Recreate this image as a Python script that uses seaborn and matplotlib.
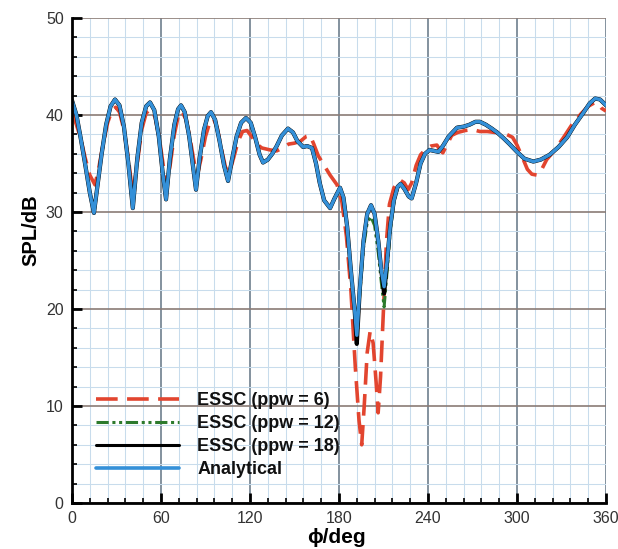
import matplotlib
matplotlib.use("Agg")
import matplotlib.pyplot as plt
import seaborn as sns
import pandas as pd
from matplotlib.ticker import MultipleLocator
from matplotlib.lines import Line2D

# ---------------- data ----------------
phi_ana = [0, 3, 6, 9, 12, 14.8, 17, 20, 23, 26, 29, 32, 35, 38, 41, 44, 47, 50, 52.6,
           55.5, 58.5, 61, 63.4, 66, 69, 71.5, 73.5, 76, 79, 81.5, 83.6, 86, 89, 91.5,
           93.7, 96.5, 99.5, 102.5, 105.2, 108, 111, 114, 117.3, 120.5, 123.5, 126.5,
           128.8, 132, 135, 138, 141.5, 145.6, 149, 152, 155.8, 158.5, 161.8, 164.5,
           167, 170, 174, 177, 180.7, 183, 185.5, 188, 190.5, 192, 194, 196.5, 199,
           201.6, 204, 206.5, 208.5, 210.4, 212.5, 214.5, 217, 219.5, 221.5, 224, 227,
           229, 232, 235, 238, 241, 244, 247, 250, 254, 259.6, 264, 268, 272, 275, 279,
           283, 286.6, 291, 295, 300, 305, 311, 316, 322, 328, 333.8, 339, 344.6, 349,
           352.7, 356, 360]
spl_ana = [41.5, 40.0, 37.5, 34.8, 32.0, 29.9, 32.5, 36.0, 39.0, 40.9, 41.6, 41.0, 38.8,
           35.0, 30.4, 35.5, 39.2, 40.9, 41.3, 40.5, 37.8, 34.2, 31.3, 35.5, 39.0, 40.6,
           41.0, 40.3, 37.8, 34.8, 32.3, 35.5, 38.5, 39.9, 40.3, 39.5, 37.3, 34.8, 33.2,
           35.5, 37.8, 39.2, 39.7, 39.2, 37.7, 35.9, 35.1, 35.4, 36.0, 36.8, 37.9, 38.6,
           38.2, 37.3, 36.7, 36.8, 36.6, 35.0, 33.0, 31.2, 30.4, 31.4, 32.5, 31.5, 28.5,
           24.0, 20.0, 17.3, 22.0, 27.0, 29.8, 30.7, 29.8, 27.0, 24.0, 22.3, 25.0, 28.5,
           31.2, 32.6, 32.9, 32.4, 31.6, 31.4, 33.0, 35.0, 36.0, 36.4, 36.3, 36.2, 36.8,
           37.8, 38.7, 38.8, 39.0, 39.3, 39.3, 39.0, 38.6, 38.2, 37.6, 37.0, 36.2, 35.5,
           35.2, 35.4, 35.9, 36.7, 37.7, 39.0, 40.2, 41.2, 41.7, 41.6, 41.0]

spl_ppw18 = [41.5, 40.0, 37.5, 34.8, 32.0, 29.9, 32.5, 36.0, 39.0, 40.9, 41.6, 41.0, 38.8,
             35.0, 30.4, 35.5, 39.2, 40.9, 41.3, 40.5, 37.8, 34.2, 31.3, 35.5, 39.0, 40.6,
             41.0, 40.3, 37.8, 34.8, 32.3, 35.5, 38.5, 39.9, 40.3, 39.5, 37.3, 34.8, 33.2,
             35.5, 37.8, 39.2, 39.7, 39.2, 37.7, 35.9, 35.1, 35.4, 36.0, 36.8, 37.9, 38.6,
             38.2, 37.3, 36.7, 36.8, 36.6, 35.0, 33.0, 31.2, 30.4, 31.4, 32.5, 31.5, 28.5,
             24.0, 20.0, 16.4, 22.0, 27.0, 29.8, 30.7, 29.8, 27.0, 24.0, 21.6, 25.0, 28.5,
             31.2, 32.6, 32.9, 32.4, 31.6, 31.4, 33.0, 35.0, 36.0, 36.4, 36.3, 36.2, 36.8,
             37.8, 38.7, 38.8, 39.0, 39.3, 39.3, 39.0, 38.6, 38.2, 37.6, 37.0, 36.2, 35.5,
             35.2, 35.4, 35.9, 36.7, 37.7, 39.0, 40.2, 41.2, 41.7, 41.6, 41.0]

spl_ppw12 = [41.5, 40.0, 37.5, 34.8, 32.0, 29.9, 32.5, 36.0, 39.0, 40.9, 41.6, 41.0, 38.8,
             35.0, 30.4, 35.5, 39.2, 40.9, 41.3, 40.5, 37.8, 34.2, 31.3, 35.5, 39.0, 40.6,
             41.0, 40.3, 37.8, 34.8, 32.3, 35.5, 38.5, 39.9, 40.3, 39.5, 37.3, 34.8, 33.2,
             35.5, 37.8, 39.2, 39.7, 39.2, 37.7, 35.9, 35.1, 35.4, 36.0, 36.8, 37.9, 38.6,
             38.2, 37.3, 36.7, 36.8, 36.6, 35.0, 33.0, 31.2, 30.4, 31.4, 32.5, 31.5, 28.5,
             24.0, 20.0, 17.0, 21.5, 26.3, 28.9, 29.5, 28.6, 25.8, 22.8, 20.2, 24.0, 28.0,
             31.0, 32.5, 32.9, 32.4, 31.6, 31.4, 33.0, 35.0, 36.0, 36.4, 36.3, 36.2, 36.8,
             37.8, 38.7, 38.8, 39.0, 39.3, 39.3, 39.0, 38.6, 38.2, 37.6, 37.0, 36.2, 35.5,
             35.2, 35.4, 35.9, 36.7, 37.7, 39.0, 40.2, 41.2, 41.7, 41.6, 41.0]

phi_ppw6 = [0, 3, 6, 9, 12, 15.5, 18, 21, 24, 27, 29.5, 32, 35, 38, 41, 44, 47, 50, 53,
            56, 59, 61.5, 63.8, 66.5, 69, 71.5, 74, 77, 80, 82.5, 84.5, 87, 90, 93, 95.5,
            98, 101, 103.5, 106, 109, 112, 115, 118, 121, 124.5, 128, 133.5, 138, 142,
            146, 150, 154, 158, 160.5, 163, 166, 170, 174, 178.7, 182, 185, 188, 191,
            193.5, 195.3, 197, 199, 201, 203, 205, 206.4, 208, 210, 212, 214, 217, 221,
            224, 226.6, 229, 232, 235, 238, 242, 246, 248, 250, 253, 256, 260, 265, 270,
            275, 280, 285, 289, 293, 297, 300, 304, 307, 310, 313.5, 317, 320, 325, 331,
            337, 343, 348, 352.7, 355, 357, 360]
spl_ppw6 = [40.2, 39.0, 37.5, 35.5, 33.8, 32.8, 34.5, 37.0, 39.2, 40.5, 40.8, 40.3, 38.5,
            35.5, 31.8, 35.0, 38.5, 40.2, 40.6, 39.8, 37.5, 34.8, 32.5, 35.2, 38.0, 39.8,
            40.4, 39.5, 37.2, 35.0, 33.8, 35.5, 37.8, 39.3, 39.6, 38.6, 36.3, 34.6, 34.0,
            35.6, 37.3, 38.3, 38.4, 37.8, 37.0, 36.6, 36.4, 36.3, 36.6, 37.0, 37.1, 37.3,
            37.8, 37.9, 37.0, 35.8, 34.8, 33.8, 32.8, 31.0, 27.5, 22.0, 14.0, 8.5, 6.0,
            10.0, 15.5, 17.7, 16.5, 12.5, 9.3, 13.0, 20.0, 27.0, 30.8, 32.5, 33.3, 33.0,
            32.3, 33.0, 34.8, 35.9, 36.4, 36.8, 36.9, 36.4, 36.1, 37.0, 37.9, 38.2, 38.4,
            38.5, 38.3, 38.3, 38.2, 38.2, 38.0, 37.7, 36.9, 35.5, 34.4, 33.9, 33.8, 34.5,
            35.4, 36.3, 37.6, 39.0, 40.1, 40.9, 41.3, 41.1, 40.7, 40.4]

labels = ["ESSC (ppw = 6)", "ESSC (ppw = 12)", "ESSC (ppw = 18)", "Analytical"]
x_ticks = [0, 60, 120, 180, 240, 300, 360]
y_ticks = [0, 10, 20, 30, 40, 50]

# ---------------- styling ----------------
sns.set_theme(style="white")
plt.rcParams['font.family'] = ['Liberation Sans', 'DejaVu Sans']

C_RED = "#e2452f"
C_GREEN = "#2c7a2c"
C_BLACK = "#000000"
C_BLUE = "#3490d8"

fig = plt.figure(figsize=(6.18, 5.49), dpi=100)
ax = fig.add_axes([72 / 618, 1 - 503 / 549, 534 / 618, 485 / 549])

df6 = pd.DataFrame({"phi": phi_ppw6, "spl": spl_ppw6})
df12 = pd.DataFrame({"phi": phi_ana, "spl": spl_ppw12})
df18 = pd.DataFrame({"phi": phi_ana, "spl": spl_ppw18})
dfa = pd.DataFrame({"phi": phi_ana, "spl": spl_ana})

sns.lineplot(data=df6, x="phi", y="spl", ax=ax, color=C_RED, lw=2.6,
             estimator=None, sort=False, zorder=3)
ax.lines[-1].set_dashes((6, 2.6))
sns.lineplot(data=df12, x="phi", y="spl", ax=ax, color=C_GREEN, lw=2.2,
             estimator=None, sort=False, zorder=4)
ax.lines[-1].set_dashes((4, 1.2, 1, 1.2, 1, 1.2))
sns.lineplot(data=df18, x="phi", y="spl", ax=ax, color=C_BLACK, lw=3.0,
             estimator=None, sort=False, zorder=5)
sns.lineplot(data=dfa, x="phi", y="spl", ax=ax, color=C_BLUE, lw=2.5,
             estimator=None, sort=False, zorder=6)

ax.set_xlim(0, 360)
ax.set_ylim(0, 50)
ax.xaxis.set_major_locator(MultipleLocator(60))
ax.xaxis.set_minor_locator(MultipleLocator(12))
ax.yaxis.set_major_locator(MultipleLocator(10))
ax.yaxis.set_minor_locator(MultipleLocator(2))
ax.set_xticks(x_ticks)
ax.set_yticks(y_ticks)
ax.set_xticklabels([str(v) for v in x_ticks])
ax.set_yticklabels([str(v) for v in y_ticks])

ax.grid(which="minor", color="#c8dcec", lw=0.75, zorder=0)
ax.grid(which="major", axis="x", color="#6e7f8e", lw=1.2, zorder=1)
ax.grid(which="major", axis="y", color="#8a7b76", lw=1.2, zorder=1)
ax.set_axisbelow(True)

for s in ["top", "right"]:
    ax.spines[s].set_visible(False)
for s in ["left", "bottom"]:
    ax.spines[s].set_color("black")
    ax.spines[s].set_linewidth(2.0)
    ax.spines[s].set_zorder(7)

ax.tick_params(which="major", direction="in", length=7, width=2, colors="black",
               labelcolor="#333333", labelsize=11.5, pad=6,
               left=True, bottom=True, top=False, right=False)
ax.tick_params(which="minor", direction="in", length=3.5, width=1.2, colors="black",
               left=True, bottom=True, top=False, right=False)

ax.set_xlabel("ϕ/deg", fontsize=15, fontweight="bold", color="black")
ax.set_ylabel("SPL/dB", fontsize=14.5, fontweight="bold", color="black")
ax.xaxis.set_label_coords((336 - 72) / 534, -0.052)
ax.yaxis.set_label_coords(-0.060, (503 - 230) / 485)

handles = [
    Line2D([], [], color=C_RED, lw=2.6, dashes=(6, 2.6)),
    Line2D([], [], color=C_GREEN, lw=2.2, dashes=(4, 1.2, 1, 1.2, 1, 1.2)),
    Line2D([], [], color=C_BLACK, lw=2.2),
    Line2D([], [], color=C_BLUE, lw=2.6),
]
leg = ax.legend(handles, labels, loc="lower left",
                bbox_to_anchor=((96 - 72) / 534, (503 - 478) / 485),
                frameon=False, borderpad=0, borderaxespad=0,
                handlelength=4.6, handletextpad=1.0, labelspacing=0.33,
                prop={"size": 13, "weight": "bold"})
for t in leg.get_texts():
    t.set_color("#111111")

fig.savefig("out.png", dpi=100)
